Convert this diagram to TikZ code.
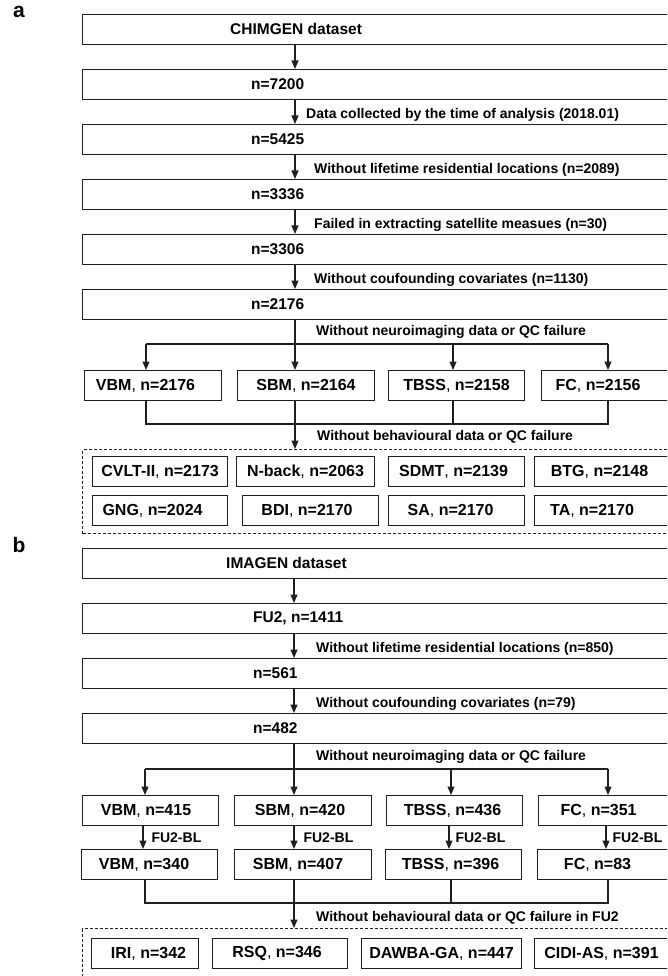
\documentclass[tikz,border=0pt]{standalone}
\usepackage{fontspec}
\setmainfont{Liberation Sans}
\usetikzlibrary{arrows.meta}
\newcommand{\thincomma}{{\mdseries,}}
\newcommand{\padR}[1]{\hspace*{#1pt}}
\begin{document}
\begin{tikzpicture}[x=1pt,y=-1pt,
  line/.style={draw=black!88, line width=1.1pt},
  arr/.style={line, -{Triangle[length=8.5pt,width=7pt]}},
  full/.style={draw=black!88, line width=1.1pt, minimum width=620pt, minimum height=30pt, inner sep=0pt, anchor=north west},
  sbox/.style={draw=black!88, line width=1.1pt, minimum height=30pt, inner sep=0pt, anchor=north west, font=\fontsize{16}{18}\selectfont\bfseries},
  ftxt/.style={font=\fontsize{15.5}{18}\selectfont\bfseries, inner sep=0pt, anchor=west},
  lbl/.style={font=\fontsize{14}{16}\selectfont\bfseries, inner sep=0pt, anchor=west},
  panel/.style={font=\fontsize{21}{24}\selectfont\bfseries, inner sep=0pt},
  dbox/.style={draw=black!88, line width=1.1pt, dash pattern=on 3pt off 2pt, inner sep=0pt, anchor=north west, minimum width=620pt},
]
\useasboundingbox (0,0) rectangle (667,976);
\clip (0,0) rectangle (667,976);

%% ---------------- panel a ----------------
\node[panel] (pa) at (19,12) {a};
\node[full] (a1) at (82,14) {};
\node[ftxt] (a1t) at (230,29) {CHIMGEN dataset};
\node[full] (a2) at (82,69) {};
\node[ftxt] (a2t) at (251,84) {n=7200};
\node[full] (a3) at (82,124) {};
\node[ftxt] (a3t) at (251,139) {n=5425};
\node[full] (a4) at (82,179) {};
\node[ftxt] (a4t) at (251,194) {n=3336};
\node[full] (a5) at (82,234) {};
\node[ftxt] (a5t) at (251,249) {n=3306};
\node[full] (a6) at (82,289) {};
\node[ftxt] (a6t) at (251,304) {n=2176};

\coordinate (ax) at (295,0);
\draw[arr] (a1.south -| ax) -- (a2.north -| ax);
\draw[arr] (a2.south -| ax) -- (a3.north -| ax);
\draw[arr] (a3.south -| ax) -- (a4.north -| ax);
\draw[arr] (a4.south -| ax) -- (a5.north -| ax);
\draw[arr] (a5.south -| ax) -- (a6.north -| ax);

\node[lbl] (al1) at (306,115) {Data collected by the time of analysis (2018.01)};
\node[lbl] (al2) at (314,170) {Without lifetime residential locations (n=2089)};
\node[lbl] (al3) at (314,225) {Failed in extracting satellite measues (n=30)};
\node[lbl] (al4) at (314,280) {Without coufounding covariates (n=1130)};
\node[lbl] (al5) at (316,332) {Without neuroimaging data or QC failure};

\node[sbox, minimum width=137pt] (av1) at (84,370) {VBM\thincomma\ n=2176\padR{15}};
\node[sbox, minimum width=137pt] (av2) at (237,370) {SBM\thincomma\ n=2164};
\node[sbox, minimum width=136pt] (av3) at (388,370) {TBSS\thincomma\ n=2158};
\node[sbox, minimum width=137pt] (av4) at (541,370) {FC\thincomma\ n=2156\padR{24}};

\coordinate (ab1) at (146,344);
\coordinate (ab3) at (453,344);
\coordinate (ab4) at (608,344);
\draw[line] (ab1) -- (ab4);
\draw[arr] (ab1) -- (av1.north -| ab1);
\draw[arr] (ab3) -- (av3.north -| ab3);
\draw[arr] (ab4) -- (av4.north -| ab4);
\draw[arr] (a6.south -| ax) -- (av2.north -| ax);

\coordinate (am1) at (146,424);
\coordinate (am3) at (453,424);
\coordinate (am4) at (608,424);
\draw[line] (av1.south -| am1) -- (am1) -- (am4) -- (av4.south -| am4);
\draw[line] (av3.south -| am3) -- (am3);

\node[dbox, minimum height=84pt] (ad) at (82,449) {};
\draw[arr] (av2.south -| ax) -- (ad.north -| ax);
\node[lbl] (al6) at (317,437) {Without behavioural data or QC failure};

\node[sbox, minimum width=135pt] (ar1) at (92,456) {CVLT-II\thincomma\ n=2173};
\node[sbox, minimum width=138pt] (ar2) at (236,456) {N-back\thincomma\ n=2063};
\node[sbox, minimum width=136pt] (ar3) at (388,456) {SDMT\thincomma\ n=2139\padR{6}};
\node[sbox, minimum width=138pt] (ar4) at (534,456) {BTG\thincomma\ n=2148\padR{8}};
\node[sbox, minimum width=135pt] (ar5) at (92,495) {GNG\thincomma\ n=2024\padR{15}};
\node[sbox, minimum width=136pt] (ar6) at (242,495) {BDI\thincomma\ n=2170\padR{7}};
\node[sbox, minimum width=136pt] (ar7) at (388,495) {SA\thincomma\ n=2170\padR{12}};
\node[sbox, minimum width=138pt] (ar8) at (534,495) {TA\thincomma\ n=2170\padR{23}};

%% ---------------- panel b ----------------
\node[panel] (pb) at (19,545) {b};
\node[full] (b1) at (82,548) {};
\node[ftxt] (b1t) at (226,563) {IMAGEN dataset};
\node[full] (b2) at (82,603) {};
\node[ftxt] (b2t) at (253,618) {FU2, n=1411};
\node[full] (b3) at (82,658) {};
\node[ftxt] (b3t) at (253,673) {n=561};
\node[full] (b4) at (82,713) {};
\node[ftxt] (b4t) at (253,728) {n=482};

\coordinate (bx) at (294,0);
\draw[arr] (b1.south -| bx) -- (b2.north -| bx);
\draw[arr] (b2.south -| bx) -- (b3.north -| bx);
\draw[arr] (b3.south -| bx) -- (b4.north -| bx);

\node[lbl] (bl1) at (316,649) {Without lifetime residential locations (n=850)};
\node[lbl] (bl2) at (316,704) {Without coufounding covariates (n=79)};
\node[lbl] (bl3) at (316,757) {Without neuroimaging data or QC failure};

\node[sbox, minimum width=136pt] (bv1) at (82,795) {VBM\thincomma\ n=415\padR{9}};
\node[sbox, minimum width=137pt] (bv2) at (234,795) {SBM\thincomma\ n=420\padR{6}};
\node[sbox, minimum width=136pt] (bv3) at (386,795) {TBSS\thincomma\ n=436\padR{4}};
\node[sbox, minimum width=137pt] (bv4) at (538,795) {FC\thincomma\ n=351\padR{17}};

\coordinate (bb1) at (145,769);
\coordinate (bb3) at (451,769);
\coordinate (bb4) at (608,769);
\draw[line] (bb1) -- (bb4);
\draw[arr] (bb1) -- (bv1.north -| bb1);
\draw[arr] (bb3) -- (bv3.north -| bb3);
\draw[arr] (bb4) -- (bv4.north -| bb4);
\draw[arr] (b4.south -| bx) -- (bv2.north -| bx);

\node[sbox, minimum width=136pt] (bw1) at (81,849) {VBM\thincomma\ n=340\padR{11}};
\node[sbox, minimum width=137pt] (bw2) at (234,849) {SBM\thincomma\ n=407\padR{10}};
\node[sbox, minimum width=136pt] (bw3) at (385,849) {TBSS\thincomma\ n=396\padR{6}};
\node[sbox, minimum width=137pt] (bw4) at (537,849) {FC\thincomma\ n=83\padR{17}};

\coordinate (bf1) at (143,0);
\coordinate (bf3) at (449,0);
\coordinate (bf4) at (606,0);
\draw[arr] (bv1.south -| bf1) -- (bw1.north -| bf1) node[lbl, midway, xshift=8pt, anchor=west] (bfl1) {FU2-BL};
\draw[arr] (bv2.south -| bx) -- (bw2.north -| bx) node[lbl, midway, xshift=9pt, anchor=west] (bfl2) {FU2-BL};
\draw[arr] (bv3.south -| bf3) -- (bw3.north -| bf3) node[lbl, midway, xshift=6pt, anchor=west] (bfl3) {FU2-BL};
\draw[arr] (bv4.south -| bf4) -- (bw4.north -| bf4) node[lbl, midway, xshift=6pt, anchor=west] (bfl4) {FU2-BL};

\coordinate (bm1) at (145,903);
\coordinate (bm3) at (451,903);
\coordinate (bm4) at (608,903);
\draw[line] (bw1.south -| bm1) -- (bm1) -- (bm4) -- (bw4.south -| bm4);
\draw[line] (bw3.south -| bm3) -- (bm3);

\node[dbox, minimum height=90pt] (bd) at (82,928) {};
\draw[arr] (bw2.south -| bx) -- (bd.north -| bx);
\node[lbl] (bl4) at (316,918) {Without behavioural data or QC failure in FU2};

\node[sbox, minimum width=107pt] (br1) at (91,938) {\hspace*{7pt}IRI\thincomma\ n=342};
\node[sbox, minimum width=135pt] (br2) at (212,938) {RSQ\thincomma\ n=346\padR{6}};
\node[sbox, minimum width=160pt] (br3) at (361,938) {DAWBA-GA\thincomma\ n=447};
\node[sbox, minimum width=146pt] (br4) at (534,938) {CIDI-AS\thincomma\ n=391\padR{12}};
\end{tikzpicture}
\end{document}
